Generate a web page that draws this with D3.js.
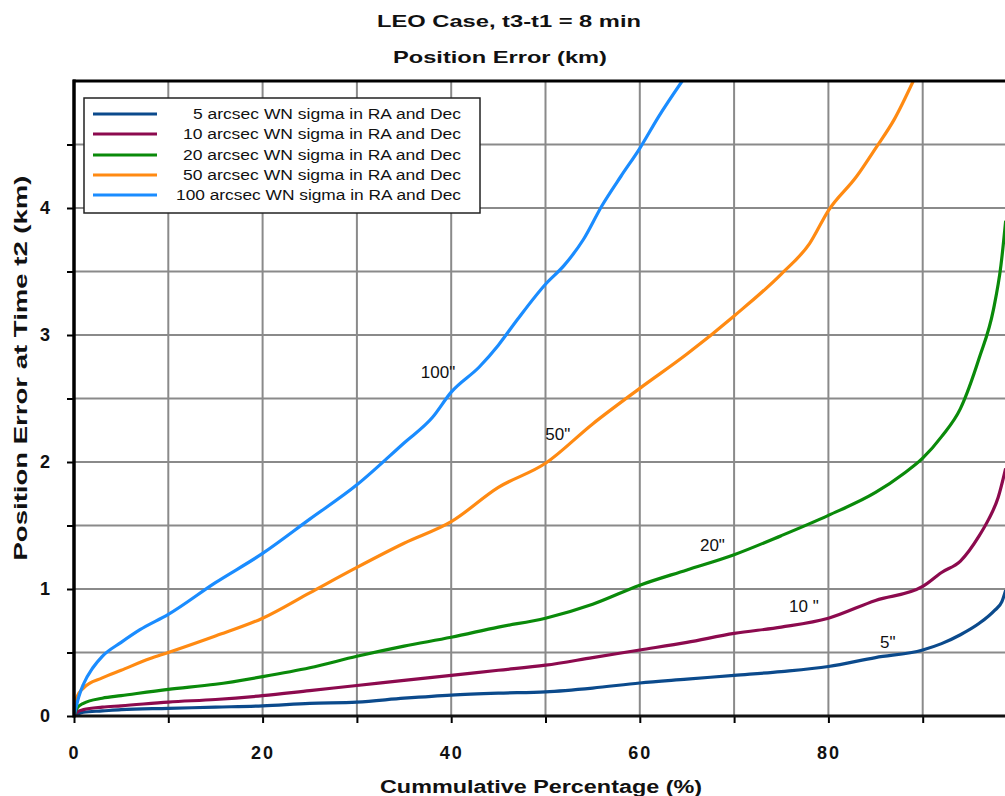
<!DOCTYPE html>
<html>
<head>
<meta charset="utf-8">
<script src="https://cdn.jsdelivr.net/npm/d3@7"></script>
<style>
  html, body { margin: 0; padding: 0; background: #fff; }
  svg { display: block; font-family: Arial, "Liberation Sans", sans-serif; }
</style>
</head>
<body>
<svg id="chart" width="1005" height="796"></svg>
<script>
// Cumulative percentage (x) vs. position error in km (y), one series per sigma level
const pct5   = [0, 1, 3, 5, 10, 15, 20, 25, 30, 35, 40, 45, 50, 55, 60, 65, 70, 75, 80, 85, 90, 92, 94, 96, 97.6, 98.4, 98.8];
const err5   = [0, 0.03, 0.04, 0.05, 0.06, 0.07, 0.08, 0.10, 0.11, 0.14, 0.165, 0.18, 0.19, 0.22, 0.26, 0.29, 0.32, 0.35, 0.39, 0.46, 0.52, 0.57, 0.64, 0.73, 0.83, 0.90, 0.99];

const pct10  = [0, 0.3, 1, 3, 5, 10, 15, 20, 25, 30, 35, 40, 45, 50, 55, 60, 65, 70, 75, 80, 85, 90, 92, 94, 96, 97, 98, 98.8];
const err10  = [0, 0.03, 0.05, 0.07, 0.08, 0.11, 0.13, 0.16, 0.20, 0.24, 0.28, 0.32, 0.36, 0.40, 0.46, 0.52, 0.58, 0.65, 0.70, 0.77, 0.91, 1.02, 1.13, 1.22, 1.42, 1.55, 1.72, 1.95];

const pct20  = [0, 0.3, 1, 3, 5, 10, 15, 20, 25, 30, 35, 40, 45, 50, 55, 60, 65, 70, 75, 80, 85, 88, 90, 92, 94, 96, 97.5, 98.3, 98.8];
const err20  = [0, 0.06, 0.10, 0.14, 0.16, 0.21, 0.25, 0.31, 0.38, 0.47, 0.55, 0.62, 0.70, 0.77, 0.88, 1.03, 1.15, 1.27, 1.42, 1.58, 1.76, 1.91, 2.03, 2.20, 2.42, 2.82, 3.20, 3.55, 3.90];

const pct50  = [0, 0.3, 1, 3, 5, 8, 10, 15, 20, 25, 30, 35, 40, 45, 50, 55, 60, 65, 70, 75, 78, 80, 83, 85, 87, 89];
const err50  = [0, 0.15, 0.22, 0.30, 0.36, 0.45, 0.50, 0.63, 0.77, 0.97, 1.17, 1.36, 1.53, 1.80, 1.99, 2.30, 2.58, 2.85, 3.15, 3.48, 3.72, 3.98, 4.25, 4.47, 4.70, 5.0];

const pct100 = [0, 0.5, 1, 2, 3, 5, 7, 10, 15, 20, 25, 30, 35, 38, 40, 43, 45, 47, 50, 52, 54, 56, 58, 60, 62, 64.5];
const err100 = [0, 0.15, 0.25, 0.38, 0.47, 0.58, 0.68, 0.80, 1.05, 1.28, 1.55, 1.82, 2.15, 2.35, 2.55, 2.75, 2.92, 3.12, 3.40, 3.55, 3.75, 4.02, 4.25, 4.47, 4.72, 5.0];

const seriesNames  = ["5 arcsec WN sigma in RA and Dec", "10 arcsec WN sigma in RA and Dec",
                      "20 arcsec WN sigma in RA and Dec", "50 arcsec WN sigma in RA and Dec",
                      "100 arcsec WN sigma in RA and Dec"];
const seriesColors = ["#0b4a8c", "#8c0a4e", "#0a8a0a", "#ff8a12", "#1a8cff"];
const seriesPct    = [pct5, pct10, pct20, pct50, pct100];
const seriesErr    = [err5, err10, err20, err50, err100];

// In-plot curve labels: text, and the (percentage, km) point of their baseline
const curveLabels = ['5"', '10 "', '20"', '50"', '100"'];
const labelPct    = [86.3, 77.4, 67.7, 51.3, 38.6];
const labelErr    = [0.535, 0.82, 1.30, 2.17, 2.66];

const xTicks = [0, 20, 40, 60, 80];
const yTicks = [0, 1, 2, 3, 4];

const svg = d3.select("#chart");
const x = d3.scaleLinear().domain([0, 100]).range([74, 1017]);
const y = d3.scaleLinear().domain([0, 5]).range([716, 81]);

// clip region for the plot area
svg.append("defs").append("clipPath").attr("id", "plotClip")
  .append("rect").attr("x", x(0)).attr("y", y(5)).attr("width", x(100) - x(0)).attr("height", y(0) - y(5));

// grid lines
const grid = svg.append("g");
grid.selectAll("line.v").data(d3.range(10, 100, 10)).join("line")
  .attr("x1", d => x(d)).attr("x2", d => x(d)).attr("y1", y(0)).attr("y2", y(5))
  .attr("stroke", "#8a8a8a").attr("stroke-width", 2);
grid.selectAll("line.h").data(d3.range(0.5, 5, 0.5)).join("line")
  .attr("x1", x(0)).attr("x2", x(100)).attr("y1", d => y(d)).attr("y2", d => y(d))
  .attr("stroke", "#8a8a8a").attr("stroke-width", 2);

// series lines
const line = d3.line().x(d => x(d[0])).y(d => y(d[1])).curve(d3.curveMonotoneX);
const plot = svg.append("g").attr("clip-path", "url(#plotClip)");
seriesPct.forEach((p, i) => {
  plot.append("path")
    .datum(p.map((v, j) => [v, seriesErr[i][j]]))
    .attr("fill", "none").attr("stroke", seriesColors[i]).attr("stroke-width", 3.2)
    .attr("stroke-linejoin", "round")
    .attr("d", line);
});

// top border
svg.append("line").attr("x1", x(0) - 1).attr("x2", 1005).attr("y1", y(5)).attr("y2", y(5))
  .attr("stroke", "#000").attr("stroke-width", 3);

// axes
const yAxis = d3.axisLeft(y).tickValues(d3.range(0, 5, 0.5)).tickSize(7)
  .tickFormat(d => yTicks.includes(d) ? d : "");
const gy = svg.append("g").attr("transform", `translate(${x(0)},0)`).call(yAxis);
gy.select(".domain").remove();
gy.selectAll(".tick line").attr("stroke", "#000").attr("stroke-width", 2);
gy.selectAll(".tick text").attr("font-size", 18).attr("font-weight", "bold")
  .attr("fill", "#111").attr("x", -24);

const xAxis = d3.axisBottom(x).tickValues(d3.range(0, 100, 10)).tickSize(7)
  .tickFormat(d => xTicks.includes(d) ? d : "");
const gx = svg.append("g").attr("transform", `translate(0,${y(0)})`).call(xAxis);
gx.select(".domain").remove();
gx.selectAll(".tick line").attr("stroke", "#000").attr("stroke-width", 2);
gx.selectAll(".tick text").attr("font-size", 18).attr("font-weight", "bold")
  .attr("fill", "#111").attr("y", 30).attr("letter-spacing", 2);

svg.append("line").attr("x1", x(0)).attr("x2", 1005).attr("y1", y(0)).attr("y2", y(0))
  .attr("stroke", "#111").attr("stroke-width", 3);
svg.append("line").attr("x1", x(0)).attr("x2", x(0)).attr("y1", y(5) - 1.5).attr("y2", y(0) + 1.5)
  .attr("stroke", "#000").attr("stroke-width", 3.5);

// curve labels
svg.append("g").selectAll("text").data(curveLabels).join("text")
  .attr("x", (d, i) => x(labelPct[i])).attr("y", (d, i) => y(labelErr[i]))
  .attr("text-anchor", "middle").attr("font-size", 17).attr("fill", "#111")
  .text(d => d);

// legend
const lg = svg.append("g");
lg.append("rect").attr("x", 84).attr("y", 98).attr("width", 396).attr("height", 115)
  .attr("fill", "#fff").attr("stroke", "#222").attr("stroke-width", 1.5);
const rowY = [114, 134, 155, 175, 195];
const textStart = [193, 183, 183, 183, 176];
seriesNames.forEach((name, i) => {
  lg.append("line").attr("x1", 93).attr("x2", 157).attr("y1", rowY[i]).attr("y2", rowY[i])
    .attr("stroke", seriesColors[i]).attr("stroke-width", 3);
  lg.append("text").attr("x", textStart[i]).attr("y", rowY[i] + 5)
    .attr("font-size", 14).attr("fill", "#111")
    .attr("textLength", 461 - textStart[i]).attr("lengthAdjust", "spacingAndGlyphs")
    .text(name);
});

// titles
svg.append("text").attr("x", 509).attr("y", 27).attr("text-anchor", "middle")
  .attr("font-size", 17).attr("font-weight", "bold").attr("fill", "#111")
  .attr("textLength", 264).attr("lengthAdjust", "spacingAndGlyphs")
  .text("LEO Case,  t3-t1 = 8 min");
svg.append("text").attr("x", 500).attr("y", 63).attr("text-anchor", "middle")
  .attr("font-size", 17).attr("font-weight", "bold").attr("fill", "#111")
  .attr("textLength", 214).attr("lengthAdjust", "spacingAndGlyphs")
  .text("Position Error (km)");

svg.append("text").attr("transform", "translate(27,368) rotate(-90)").attr("text-anchor", "middle")
  .attr("font-size", 18).attr("font-weight", "bold").attr("fill", "#111")
  .attr("textLength", 385).attr("lengthAdjust", "spacingAndGlyphs")
  .text("Position Error at Time t2 (km)");

svg.append("text").attr("x", 541).attr("y", 793).attr("text-anchor", "middle")
  .attr("font-size", 18).attr("font-weight", "bold").attr("fill", "#111")
  .attr("textLength", 322).attr("lengthAdjust", "spacingAndGlyphs")
  .text("Cummulative Percentage (%)");
</script>
</body>
</html>
